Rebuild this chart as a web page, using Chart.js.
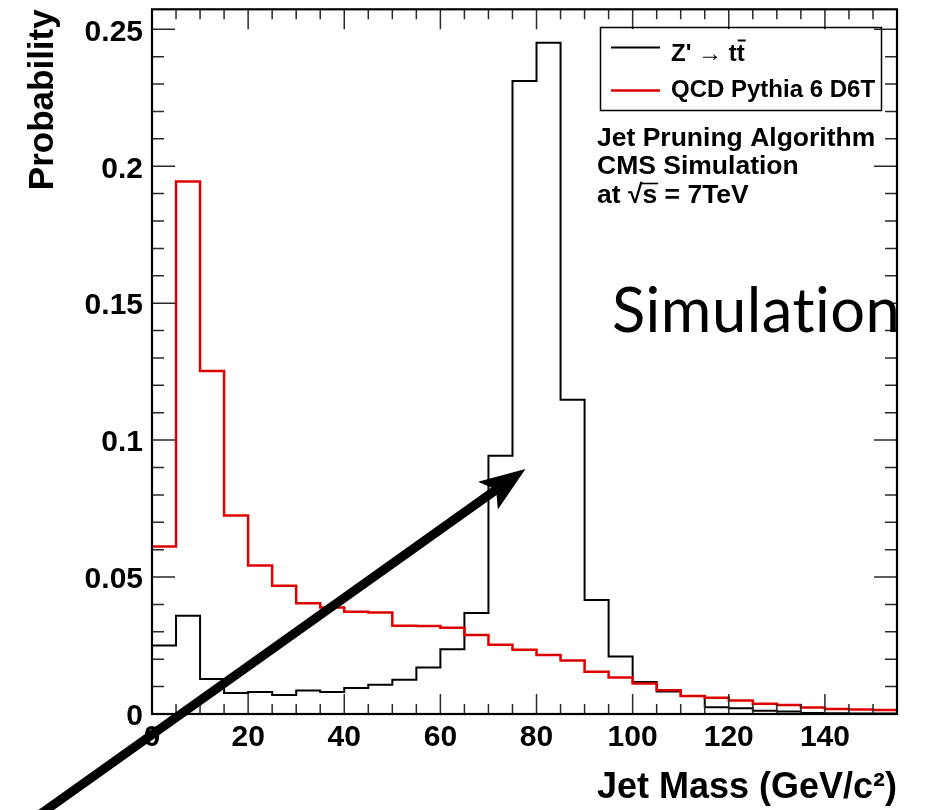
<!DOCTYPE html>
<html>
<head>
<meta charset="utf-8">
<title>Jet mass</title>
<script src="https://cdn.jsdelivr.net/npm/chart.js@4.4.1/dist/chart.umd.min.js"></script>
<style>
  html, body { margin: 0; padding: 0; background: #fff; }
  canvas { display: block; }
</style>
</head>
<body>
<canvas id="mass" width="925" height="810"></canvas>
<script>
// lower edge of each jet mass bin (GeV/c^2)
const binEdges = [0, 5, 10, 15, 20, 25, 30, 35, 40, 45, 50, 55, 60, 65, 70, 75,
  80, 85, 90, 95, 100, 105, 110, 115, 120, 125, 130, 135, 140, 145, 150];
const binWidth = 5;

// normalised jet mass distributions
const zprimeProb = [0.0250, 0.0359, 0.0128, 0.0077, 0.0080, 0.0069, 0.0086, 0.0080,
  0.0095, 0.0107, 0.0125, 0.0170, 0.0236, 0.0369, 0.0943, 0.2311, 0.2451, 0.1147,
  0.0416, 0.0210, 0.0117, 0.0082, 0.0066, 0.0025, 0.0021, 0.0012, 0.0009, 0.0004,
  0.0003, 0.0002, 0.0002];
const qcdProb = [0.0612, 0.1944, 0.1252, 0.0725, 0.0542, 0.0468, 0.0404, 0.0389,
  0.0373, 0.0371, 0.0322, 0.0321, 0.0315, 0.0288, 0.0253, 0.0235, 0.0215, 0.0195,
  0.0154, 0.0133, 0.0111, 0.0087, 0.0066, 0.0059, 0.0049, 0.0037, 0.0033, 0.0024,
  0.0018, 0.0016, 0.0015];

const xTicks = [0, 20, 40, 60, 80, 100, 120, 140];
const yTicks = [0, 0.05, 0.1, 0.15, 0.2, 0.25];
const xMax = 155;
const yMax = 0.2573;

const seriesLabels = ["Z' \u2192 tt", 'QCD Pythia 6 D6T'];
const seriesColors = ['#000000', '#dd0000'];
const infoLines = ['Jet Pruning Algorithm', 'CMS Simulation', 'at \u221As = 7TeV'];

// arrow annotation, in axis units (GeV/c^2, probability)
const arrowFrom = [-27.6, -0.042];
const arrowTo = [77.7, 0.0895];

const FONT = '"Liberation Sans", Arial, Helvetica, sans-serif';

// one point per bin edge, last value repeated to close the final bin
function steps(values) {
  const pts = binEdges.map((x, i) => ({ x: x, y: values[i] }));
  pts.push({ x: binEdges[binEdges.length - 1] + binWidth, y: values[values.length - 1] });
  return pts;
}

// frame around the plot with ROOT style ticks pointing inwards
const frameTicks = {
  id: 'frameTicks',
  afterDatasetsDraw(chart) {
    const { ctx, chartArea: a, scales: { x, y } } = chart;
    ctx.save();
    ctx.strokeStyle = '#2a2a2a';
    ctx.lineWidth = 1.5;
    ctx.beginPath();
    for (let v = 0; v <= xMax + 0.001; v += binWidth) {
      const px = x.getPixelForValue(v);
      const len = (v % 20 === 0) ? 20 : 10;
      ctx.moveTo(px, a.bottom); ctx.lineTo(px, a.bottom - len);
      ctx.moveTo(px, a.top); ctx.lineTo(px, a.top + len);
    }
    for (let k = 0; k / 100 <= yMax; k++) {
      const py = y.getPixelForValue(k / 100);
      const len = (k % 5 === 0) ? 23 : 12;
      ctx.moveTo(a.left, py); ctx.lineTo(a.left + len, py);
      ctx.moveTo(a.right, py); ctx.lineTo(a.right - len, py);
    }
    ctx.stroke();
    ctx.strokeStyle = '#000';
    ctx.lineWidth = 2.2;
    ctx.strokeRect(a.left, a.top, a.right - a.left, a.bottom - a.top);
    ctx.restore();
  }
};

// legend box, text block and the arrow
const annotations = {
  id: 'annotations',
  afterDraw(chart) {
    const { ctx, scales: { x, y } } = chart;
    ctx.save();

    // legend
    ctx.lineWidth = 1.5;
    ctx.strokeStyle = '#000';
    ctx.strokeRect(600.5, 27.5, 281, 83);
    const rows = [47.5, 90.5];
    const baselines = [60.5, 97];
    ctx.font = 'bold 24px ' + FONT;
    ctx.textBaseline = 'alphabetic';
    ctx.fillStyle = '#000';
    chart.data.datasets.forEach((ds, i) => {
      ctx.strokeStyle = ds.borderColor;
      ctx.lineWidth = ds.borderWidth;
      ctx.beginPath();
      ctx.moveTo(611, rows[i]); ctx.lineTo(660, rows[i]);
      ctx.stroke();
      ctx.fillText(ds.label, 671, baselines[i]);
    });
    // bar over the anti-top
    const lab = chart.data.datasets[0].label;
    const w0 = ctx.measureText(lab.slice(0, -1)).width;
    const wt = ctx.measureText('t').width;
    ctx.strokeStyle = '#000';
    ctx.lineWidth = 2;
    ctx.beginPath();
    ctx.moveTo(671 + w0 + 1, baselines[0] - 20);
    ctx.lineTo(671 + w0 + wt + 1, baselines[0] - 20);
    ctx.stroke();

    // text block
    ctx.font = 'bold 26.5px ' + FONT;
    const base0 = 145.5, lineGap = 28.5;
    infoLines.forEach((t, i) => ctx.fillText(t, 597, base0 + i * lineGap));
    const last = infoLines[2];
    const root = last.indexOf('\u221A');
    const wr = ctx.measureText(last.slice(0, root + 1)).width;
    const ws = ctx.measureText('s').width;
    ctx.lineWidth = 1.6;
    ctx.beginPath();
    ctx.moveTo(597 + wr - 1, base0 + 2 * lineGap - 19);
    ctx.lineTo(597 + wr + ws + 1, base0 + 2 * lineGap - 19);
    ctx.stroke();

    // big label
    ctx.letterSpacing = '0.5px';
    ctx.font = '400 64px Lato, "Open Sans", sans-serif';
    const big = 'Simulation';
    const scale = 288 / ctx.measureText(big).width;
    ctx.font = '400 ' + (64 * scale).toFixed(1) + 'px Lato, "Open Sans", sans-serif';
    ctx.fillText(big, 612, 332);
    ctx.letterSpacing = '0px';

    // arrow
    const x0 = x.getPixelForValue(arrowFrom[0]), y0 = y.getPixelForValue(arrowFrom[1]);
    const x1 = x.getPixelForValue(arrowTo[0]), y1 = y.getPixelForValue(arrowTo[1]);
    const ang = Math.atan2(y1 - y0, x1 - x0);
    const head = 46, half = 17, notch = 36;
    const ux = Math.cos(ang), uy = Math.sin(ang);
    ctx.strokeStyle = '#000';
    ctx.lineWidth = 9;
    ctx.lineCap = 'butt';
    ctx.beginPath();
    ctx.moveTo(x0, y0);
    ctx.lineTo(x1 - ux * notch, y1 - uy * notch);
    ctx.stroke();
    ctx.fillStyle = '#000';
    ctx.beginPath();
    ctx.moveTo(x1, y1);
    ctx.lineTo(x1 - ux * head - uy * half, y1 - uy * head + ux * half);
    ctx.lineTo(x1 - ux * notch, y1 - uy * notch);
    ctx.lineTo(x1 - ux * head + uy * half, y1 - uy * head - ux * half);
    ctx.closePath();
    ctx.fill();

    ctx.restore();
  }
};

new Chart(document.getElementById('mass'), {
  type: 'line',
  plugins: [frameTicks, annotations],
  data: {
    datasets: [
      {
        label: seriesLabels[0],
        data: steps(zprimeProb),
        borderColor: seriesColors[0],
        borderWidth: 2,
        order: 2
      },
      {
        label: seriesLabels[1],
        data: steps(qcdProb),
        borderColor: seriesColors[1],
        borderWidth: 2.5,
        order: 1
      }
    ]
  },
  options: {
    responsive: false,
    devicePixelRatio: 1,
    animation: false,
    layout: { padding: { top: 9, right: 28, left: 0, bottom: 0 } },
    elements: {
      line: { stepped: true, fill: false, tension: 0 },
      point: { radius: 0, hoverRadius: 0 }
    },
    plugins: {
      legend: { display: false },
      tooltip: { enabled: false }
    },
    scales: {
      x: {
        type: 'linear',
        min: 0,
        max: xMax,
        grid: { display: false, drawTicks: false },
        border: { display: false },
        afterBuildTicks: s => { s.ticks = xTicks.map(v => ({ value: v })); },
        afterFit: s => { s.height = 96; },
        ticks: {
          color: '#000',
          padding: 6,
          maxRotation: 0,
          autoSkip: false,
          font: { family: FONT, size: 30, weight: 'bold' }
        },
        title: {
          display: true,
          text: 'Jet Mass (GeV/c\u00B2)',
          align: 'end',
          color: '#000',
          padding: 0,
          font: { family: FONT, size: 36, weight: 'bold' }
        }
      },
      y: {
        min: 0,
        max: yMax,
        grid: { display: false, drawTicks: false },
        border: { display: false },
        afterBuildTicks: s => { s.ticks = yTicks.map(v => ({ value: v })); },
        afterFit: s => { s.width = 152; },
        ticks: {
          color: '#000',
          padding: 9,
          labelOffset: 3,
          autoSkip: false,
          callback: v => String(v),
          // tiny line height keeps the top label from padding the plot down
          font: { family: FONT, size: 30, weight: 'bold', lineHeight: 0.02 }
        },
        title: {
          display: true,
          text: 'Probability',
          align: 'end',
          color: '#000',
          padding: { top: 22, bottom: 0 },
          font: { family: FONT, size: 35, weight: 'bold' }
        }
      }
    }
  }
});
</script>
</body>
</html>
